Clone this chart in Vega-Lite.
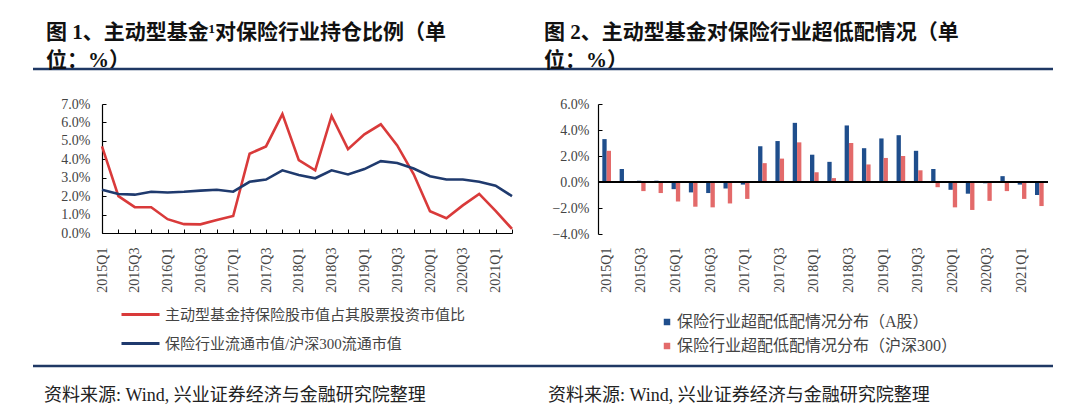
{
  "$schema": "https://vega.github.io/schema/vega-lite/v6.json",
  "background": "white",
  "padding": {"left": 31, "top": 20, "right": 5, "bottom": 5},
  "columns": 6,
  "spacing": 0,
  "bounds": "flush",
  "align": "each",
  "resolve": {"scale": {"color": "independent"}, "legend": {"color": "independent"}},
  "datasets": {
    "none": [],
    "left": [
      {"q": "2015Q1", "s": "主动型基金持保险股市值占其股票投资市值比", "v": 4.7},
      {"q": "2015Q2", "s": "主动型基金持保险股市值占其股票投资市值比", "v": 2.0},
      {"q": "2015Q3", "s": "主动型基金持保险股市值占其股票投资市值比", "v": 1.4},
      {"q": "2015Q4", "s": "主动型基金持保险股市值占其股票投资市值比", "v": 1.4},
      {"q": "2016Q1", "s": "主动型基金持保险股市值占其股票投资市值比", "v": 0.75},
      {"q": "2016Q2", "s": "主动型基金持保险股市值占其股票投资市值比", "v": 0.48},
      {"q": "2016Q3", "s": "主动型基金持保险股市值占其股票投资市值比", "v": 0.47},
      {"q": "2016Q4", "s": "主动型基金持保险股市值占其股票投资市值比", "v": 0.7},
      {"q": "2017Q1", "s": "主动型基金持保险股市值占其股票投资市值比", "v": 0.92},
      {"q": "2017Q2", "s": "主动型基金持保险股市值占其股票投资市值比", "v": 4.3},
      {"q": "2017Q3", "s": "主动型基金持保险股市值占其股票投资市值比", "v": 4.7},
      {"q": "2017Q4", "s": "主动型基金持保险股市值占其股票投资市值比", "v": 6.45},
      {"q": "2018Q1", "s": "主动型基金持保险股市值占其股票投资市值比", "v": 3.95},
      {"q": "2018Q2", "s": "主动型基金持保险股市值占其股票投资市值比", "v": 3.4},
      {"q": "2018Q3", "s": "主动型基金持保险股市值占其股票投资市值比", "v": 6.35},
      {"q": "2018Q4", "s": "主动型基金持保险股市值占其股票投资市值比", "v": 4.55},
      {"q": "2019Q1", "s": "主动型基金持保险股市值占其股票投资市值比", "v": 5.35},
      {"q": "2019Q2", "s": "主动型基金持保险股市值占其股票投资市值比", "v": 5.9},
      {"q": "2019Q3", "s": "主动型基金持保险股市值占其股票投资市值比", "v": 4.75},
      {"q": "2019Q4", "s": "主动型基金持保险股市值占其股票投资市值比", "v": 3.2},
      {"q": "2020Q1", "s": "主动型基金持保险股市值占其股票投资市值比", "v": 1.18},
      {"q": "2020Q2", "s": "主动型基金持保险股市值占其股票投资市值比", "v": 0.8},
      {"q": "2020Q3", "s": "主动型基金持保险股市值占其股票投资市值比", "v": 1.5},
      {"q": "2020Q4", "s": "主动型基金持保险股市值占其股票投资市值比", "v": 2.12},
      {"q": "2021Q1", "s": "主动型基金持保险股市值占其股票投资市值比", "v": 1.2},
      {"q": "2021Q2", "s": "主动型基金持保险股市值占其股票投资市值比", "v": 0.22},
      {"q": "2015Q1", "s": "保险行业流通市值/沪深300流通市值", "v": 2.35},
      {"q": "2015Q2", "s": "保险行业流通市值/沪深300流通市值", "v": 2.12},
      {"q": "2015Q3", "s": "保险行业流通市值/沪深300流通市值", "v": 2.08},
      {"q": "2015Q4", "s": "保险行业流通市值/沪深300流通市值", "v": 2.24},
      {"q": "2016Q1", "s": "保险行业流通市值/沪深300流通市值", "v": 2.2},
      {"q": "2016Q2", "s": "保险行业流通市值/沪深300流通市值", "v": 2.24},
      {"q": "2016Q3", "s": "保险行业流通市值/沪深300流通市值", "v": 2.3},
      {"q": "2016Q4", "s": "保险行业流通市值/沪深300流通市值", "v": 2.35},
      {"q": "2017Q1", "s": "保险行业流通市值/沪深300流通市值", "v": 2.24},
      {"q": "2017Q2", "s": "保险行业流通市值/沪深300流通市值", "v": 2.78},
      {"q": "2017Q3", "s": "保险行业流通市值/沪深300流通市值", "v": 2.9},
      {"q": "2017Q4", "s": "保险行业流通市值/沪深300流通市值", "v": 3.4},
      {"q": "2018Q1", "s": "保险行业流通市值/沪深300流通市值", "v": 3.15},
      {"q": "2018Q2", "s": "保险行业流通市值/沪深300流通市值", "v": 2.97},
      {"q": "2018Q3", "s": "保险行业流通市值/沪深300流通市值", "v": 3.4},
      {"q": "2018Q4", "s": "保险行业流通市值/沪深300流通市值", "v": 3.18},
      {"q": "2019Q1", "s": "保险行业流通市值/沪深300流通市值", "v": 3.47},
      {"q": "2019Q2", "s": "保险行业流通市值/沪深300流通市值", "v": 3.9},
      {"q": "2019Q3", "s": "保险行业流通市值/沪深300流通市值", "v": 3.8},
      {"q": "2019Q4", "s": "保险行业流通市值/沪深300流通市值", "v": 3.5},
      {"q": "2020Q1", "s": "保险行业流通市值/沪深300流通市值", "v": 3.08},
      {"q": "2020Q2", "s": "保险行业流通市值/沪深300流通市值", "v": 2.9},
      {"q": "2020Q3", "s": "保险行业流通市值/沪深300流通市值", "v": 2.9},
      {"q": "2020Q4", "s": "保险行业流通市值/沪深300流通市值", "v": 2.78},
      {"q": "2021Q1", "s": "保险行业流通市值/沪深300流通市值", "v": 2.57},
      {"q": "2021Q2", "s": "保险行业流通市值/沪深300流通市值", "v": 2.0}
    ],
    "right": [
      {"q": "2015Q1", "s": "保险行业超配低配情况分布（A股）", "v": 3.3},
      {"q": "2015Q2", "s": "保险行业超配低配情况分布（A股）", "v": 1.0},
      {"q": "2015Q3", "s": "保险行业超配低配情况分布（A股）", "v": 0.1},
      {"q": "2015Q4", "s": "保险行业超配低配情况分布（A股）", "v": 0.1},
      {"q": "2016Q1", "s": "保险行业超配低配情况分布（A股）", "v": -0.55},
      {"q": "2016Q2", "s": "保险行业超配低配情况分布（A股）", "v": -0.8},
      {"q": "2016Q3", "s": "保险行业超配低配情况分布（A股）", "v": -0.85},
      {"q": "2016Q4", "s": "保险行业超配低配情况分布（A股）", "v": -0.5},
      {"q": "2017Q1", "s": "保险行业超配低配情况分布（A股）", "v": -0.2},
      {"q": "2017Q2", "s": "保险行业超配低配情况分布（A股）", "v": 2.75},
      {"q": "2017Q3", "s": "保险行业超配低配情况分布（A股）", "v": 3.15},
      {"q": "2017Q4", "s": "保险行业超配低配情况分布（A股）", "v": 4.55},
      {"q": "2018Q1", "s": "保险行业超配低配情况分布（A股）", "v": 2.1},
      {"q": "2018Q2", "s": "保险行业超配低配情况分布（A股）", "v": 1.55},
      {"q": "2018Q3", "s": "保险行业超配低配情况分布（A股）", "v": 4.35},
      {"q": "2018Q4", "s": "保险行业超配低配情况分布（A股）", "v": 2.6},
      {"q": "2019Q1", "s": "保险行业超配低配情况分布（A股）", "v": 3.35},
      {"q": "2019Q2", "s": "保险行业超配低配情况分布（A股）", "v": 3.6},
      {"q": "2019Q3", "s": "保险行业超配低配情况分布（A股）", "v": 2.4},
      {"q": "2019Q4", "s": "保险行业超配低配情况分布（A股）", "v": 1.0},
      {"q": "2020Q1", "s": "保险行业超配低配情况分布（A股）", "v": -0.6},
      {"q": "2020Q2", "s": "保险行业超配低配情况分布（A股）", "v": -0.9},
      {"q": "2020Q3", "s": "保险行业超配低配情况分布（A股）", "v": -0.1},
      {"q": "2020Q4", "s": "保险行业超配低配情况分布（A股）", "v": 0.45},
      {"q": "2021Q1", "s": "保险行业超配低配情况分布（A股）", "v": -0.2},
      {"q": "2021Q2", "s": "保险行业超配低配情况分布（A股）", "v": -1.0},
      {"q": "2015Q1", "s": "保险行业超配低配情况分布（沪深300）", "v": 2.4},
      {"q": "2015Q2", "s": "保险行业超配低配情况分布（沪深300）", "v": 0.05},
      {"q": "2015Q3", "s": "保险行业超配低配情况分布（沪深300）", "v": -0.7},
      {"q": "2015Q4", "s": "保险行业超配低配情况分布（沪深300）", "v": -0.85},
      {"q": "2016Q1", "s": "保险行业超配低配情况分布（沪深300）", "v": -1.5},
      {"q": "2016Q2", "s": "保险行业超配低配情况分布（沪深300）", "v": -1.9},
      {"q": "2016Q3", "s": "保险行业超配低配情况分布（沪深300）", "v": -1.95},
      {"q": "2016Q4", "s": "保险行业超配低配情况分布（沪深300）", "v": -1.65},
      {"q": "2017Q1", "s": "保险行业超配低配情况分布（沪深300）", "v": -1.3},
      {"q": "2017Q2", "s": "保险行业超配低配情况分布（沪深300）", "v": 1.45},
      {"q": "2017Q3", "s": "保险行业超配低配情况分布（沪深300）", "v": 1.8},
      {"q": "2017Q4", "s": "保险行业超配低配情况分布（沪深300）", "v": 3.05},
      {"q": "2018Q1", "s": "保险行业超配低配情况分布（沪深300）", "v": 0.75},
      {"q": "2018Q2", "s": "保险行业超配低配情况分布（沪深300）", "v": 0.3},
      {"q": "2018Q3", "s": "保险行业超配低配情况分布（沪深300）", "v": 3.0},
      {"q": "2018Q4", "s": "保险行业超配低配情况分布（沪深300）", "v": 1.35},
      {"q": "2019Q1", "s": "保险行业超配低配情况分布（沪深300）", "v": 1.85},
      {"q": "2019Q2", "s": "保险行业超配低配情况分布（沪深300）", "v": 2.0},
      {"q": "2019Q3", "s": "保险行业超配低配情况分布（沪深300）", "v": 0.9},
      {"q": "2019Q4", "s": "保险行业超配低配情况分布（沪深300）", "v": -0.4},
      {"q": "2020Q1", "s": "保险行业超配低配情况分布（沪深300）", "v": -1.95},
      {"q": "2020Q2", "s": "保险行业超配低配情况分布（沪深300）", "v": -2.15},
      {"q": "2020Q3", "s": "保险行业超配低配情况分布（沪深300）", "v": -1.45},
      {"q": "2020Q4", "s": "保险行业超配低配情况分布（沪深300）", "v": -0.7},
      {"q": "2021Q1", "s": "保险行业超配低配情况分布（沪深300）", "v": -1.3},
      {"q": "2021Q2", "s": "保险行业超配低配情况分布（沪深300）", "v": -1.85}
    ]
  },
  "config": {
    "view": {"stroke": null},
    "title": {
      "anchor": "start",
      "frame": "group",
      "font": "Liberation Serif, Noto Sans CJK SC",
      "fontSize": 21,
      "fontWeight": "bold",
      "color": "#111111",
      "lineHeight": 28,
      "offset": -2,
      "limit": 3000
    },
    "axis": {
      "domainColor": "#000000",
      "domainWidth": 1.2,
      "tickColor": "#000000",
      "labelFont": "Liberation Serif",
      "labelFontSize": 14,
      "labelColor": "#444444",
      "labelOverlap": false,
      "grid": false,
      "title": null
    },
    "legend": {
      "labelFont": "Liberation Serif, Noto Sans CJK SC",
      "labelFontSize": 15,
      "labelColor": "#444444",
      "labelLimit": 600,
      "padding": 0,
      "title": null
    }
  },
  "concat": [
    {"width": 69, "height": 35, "data": {"name": "none"}, "mark": "point",
     "view": {"stroke": "#1f3864", "strokeWidth": 2.5, "strokeDash": [69, 3000]},
     "title": {"text": ["图 1、主动型基金¹对保险行业持仓比例（单", "位：%）"], "dx": 13}},
    {"width": 410, "height": 35, "data": {"name": "none"}, "mark": "point",
     "view": {"stroke": "#1f3864", "strokeWidth": 2.5, "strokeDash": [410, 3000]}},
    {"width": 29, "height": 35, "data": {"name": "none"}, "mark": "point",
     "view": {"stroke": "#1f3864", "strokeWidth": 2.5, "strokeDash": [29, 3000]}},
    {"width": 57, "height": 35, "data": {"name": "none"}, "mark": "point",
     "view": {"stroke": "#1f3864", "strokeWidth": 2.5, "strokeDash": [57, 3000]},
     "title": {"text": ["图 2、主动型基金对保险行业超低配情况（单", "位：%）"], "dx": 3}},
    {"width": 450, "height": 35, "data": {"name": "none"}, "mark": "point",
     "view": {"stroke": "#1f3864", "strokeWidth": 2.5, "strokeDash": [450, 3000]}},
    {"width": 5, "height": 35, "data": {"name": "none"}, "mark": "point",
     "view": {"stroke": "#1f3864", "strokeWidth": 2.5, "strokeDash": [5, 3000]}},

    {"width": 69, "height": 130, "data": {"name": "none"}, "mark": "point"},
    {
      "width": 410,
      "height": 129,
      "data": {"name": "left"},
      "mark": {"type": "line", "strokeWidth": 2.6},
      "encoding": {
        "x": {
          "field": "q", "type": "ordinal", "sort": null,
          "scale": {"type": "point", "padding": 0},
          "axis": {
            "tickSize": -4, "labelPadding": 18, "labelAngle": 270,
            "labelExpr": "indexof(datum.value, 'Q1') > 0 || indexof(datum.value, 'Q3') > 0 ? datum.value : ''"
          }
        },
        "y": {
          "field": "v", "type": "quantitative",
          "scale": {"domain": [0, 7], "nice": false},
          "axis": {
            "values": [0, 1, 2, 3, 4, 5, 6, 7], "tickSize": -4, "labelPadding": 16,
            "labelExpr": "format(datum.value, '.1f') + '%'"
          }
        },
        "color": {
          "field": "s", "type": "nominal", "sort": null,
          "scale": {
            "domain": ["主动型基金持保险股市值占其股票投资市值比", "保险行业流通市值/沪深300流通市值"],
            "range": ["#d93a3a", "#1f3a6e"]
          },
          "legend": {
            "orient": "none", "legendX": 18, "legendY": 190,
            "symbolType": "stroke", "symbolSize": 1444, "symbolStrokeWidth": 3,
            "rowPadding": -13, "labelOffset": 4
          }
        }
      }
    },
    {"width": 29, "height": 130, "data": {"name": "none"}, "mark": "point"},
    {"width": 57, "height": 130, "data": {"name": "none"}, "mark": "point"},
    {
      "width": 450,
      "height": 130,
      "data": {"name": "right"},
      "encoding": {
        "y": {
          "field": "v", "type": "quantitative",
          "scale": {"domain": [-4, 6], "nice": false},
          "axis": {
            "values": [-4, -2, 0, 2, 4, 6], "tickSize": -4, "labelPadding": 13, "labelOverlap": false,
            "labelExpr": "format(datum.value, '.1f') + '%'"
          }
        }
      },
      "layer": [
        {
          "mark": {"type": "bar"},
          "encoding": {
            "x": {
              "field": "q", "type": "nominal", "sort": null,
              "scale": {"paddingInner": 0.5, "paddingOuter": 0.25},
              "axis": {
                "domain": false, "ticks": false, "labelPadding": 13, "labelAngle": 270,
                "labelExpr": "indexof(datum.value, 'Q1') > 0 || indexof(datum.value, 'Q3') > 0 ? datum.value : ''"
              }
            },
            "xOffset": {"field": "s", "type": "nominal", "sort": null, "scale": {"paddingInner": 0}},
            "color": {
              "field": "s", "type": "nominal", "sort": null,
              "scale": {
                "domain": ["保险行业超配低配情况分布（A股）", "保险行业超配低配情况分布（沪深300）"],
                "range": ["#1f4e8c", "#e36a6a"]
              },
              "legend": {
                "orient": "none", "legendX": 61, "legendY": 210,
                "symbolType": "square", "symbolSize": 42, "symbolStrokeWidth": 0,
                "rowPadding": 8, "labelOffset": 2, "labelFontSize": 16
              }
            }
          }
        },
        {
          "mark": {"type": "rule", "color": "#000000", "strokeWidth": 1.2},
          "encoding": {"y": {"datum": 0}}
        }
      ]
    },
    {"width": 5, "height": 130, "data": {"name": "none"}, "mark": "point"},

    {"width": 69, "height": 132, "data": {"name": "none"}, "mark": "point",
     "view": {"stroke": "#1f3864", "strokeWidth": 2.5, "strokeDash": [0, 201, 69, 3000]},
     "title": {"text": "资料来源: Wind, 兴业证券经济与金融研究院整理", "orient": "bottom", "dx": 11,
               "fontSize": 18, "fontWeight": "normal", "color": "#222222", "offset": 21}},
    {"width": 410, "height": 132, "data": {"name": "none"}, "mark": "point",
     "view": {"stroke": "#1f3864", "strokeWidth": 2.5, "strokeDash": [0, 542, 410, 3000]}},
    {"width": 29, "height": 132, "data": {"name": "none"}, "mark": "point",
     "view": {"stroke": "#1f3864", "strokeWidth": 2.5, "strokeDash": [0, 161, 29, 3000]}},
    {"width": 57, "height": 132, "data": {"name": "none"}, "mark": "point",
     "view": {"stroke": "#1f3864", "strokeWidth": 2.5, "strokeDash": [0, 189, 57, 3000]},
     "title": {"text": "资料来源: Wind, 兴业证券经济与金融研究院整理", "orient": "bottom", "dx": 7,
               "fontSize": 18, "fontWeight": "normal", "color": "#222222", "offset": 21}},
    {"width": 450, "height": 132, "data": {"name": "none"}, "mark": "point",
     "view": {"stroke": "#1f3864", "strokeWidth": 2.5, "strokeDash": [0, 582, 450, 3000]}},
    {"width": 5, "height": 132, "data": {"name": "none"}, "mark": "point",
     "view": {"stroke": "#1f3864", "strokeWidth": 2.5, "strokeDash": [0, 137, 5, 3000]}}
  ]
}
